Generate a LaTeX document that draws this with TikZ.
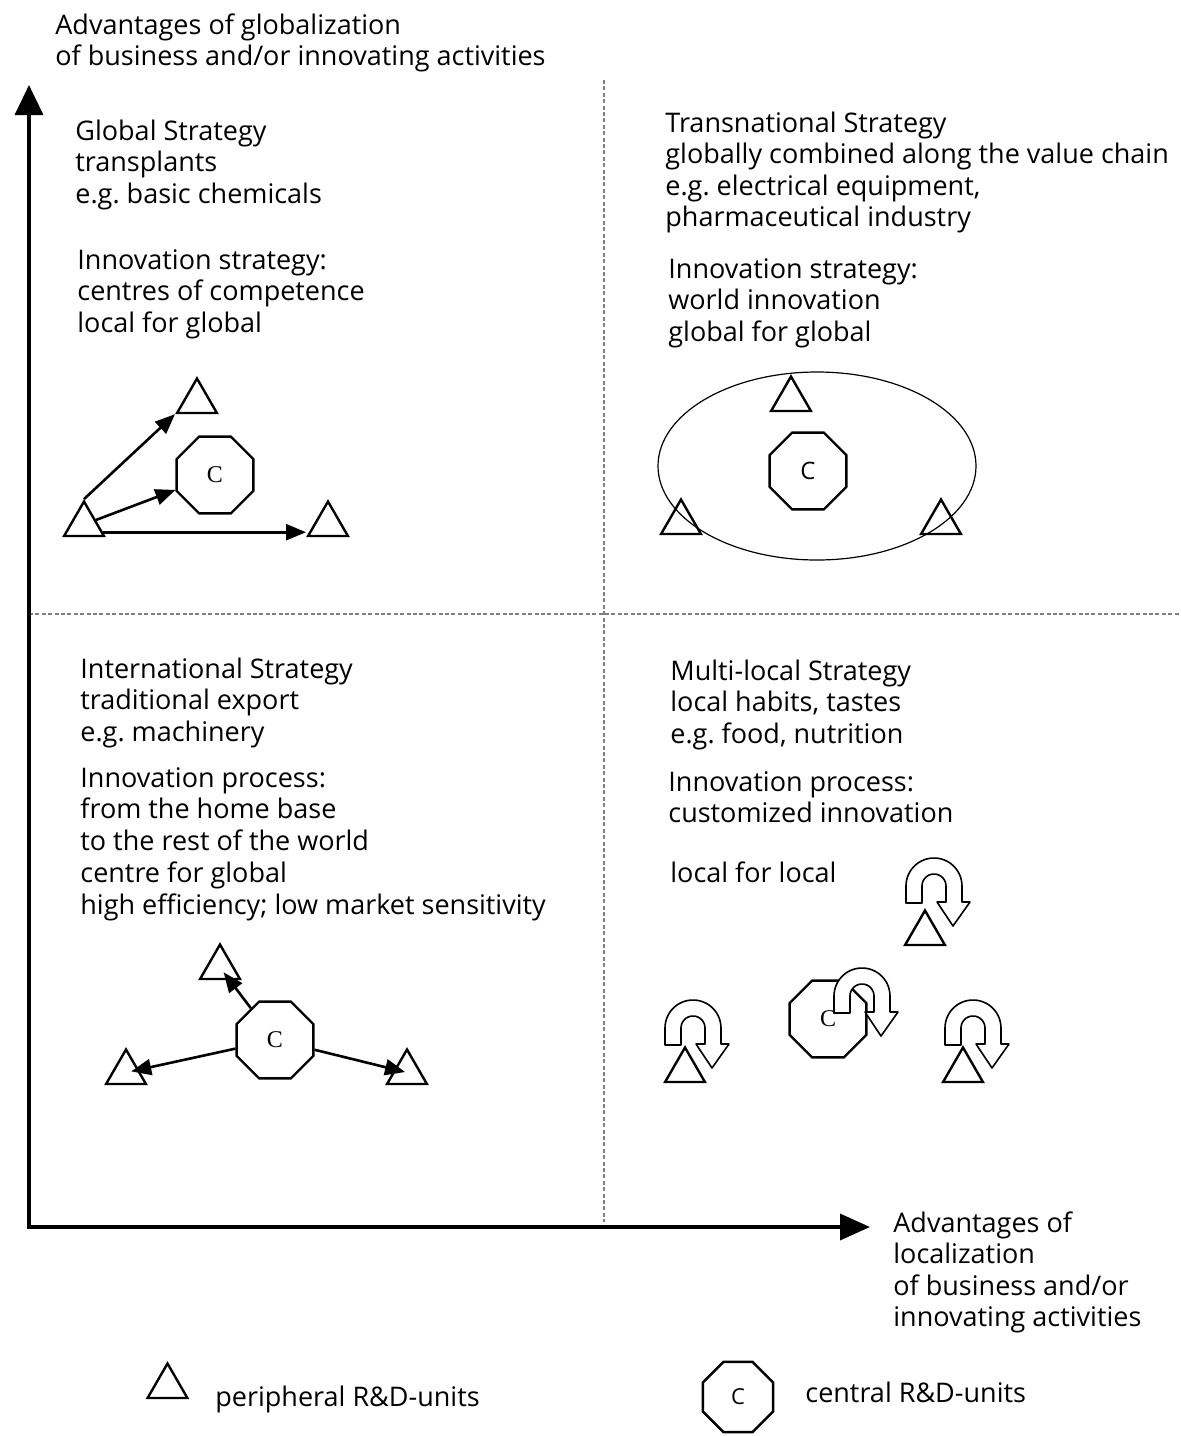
\documentclass[tikz,border=0pt]{standalone}
\usepackage{fontspec}
\setmainfont{Open Sans}
\newfontfamily\cfont{Liberation Serif}
\usetikzlibrary{shapes.geometric,arrows.meta,calc}
\frenchspacing
\begin{document}
\begin{tikzpicture}[x=0.5pt,y=-0.5pt,
 txt/.style={anchor=base west, inner sep=0pt, font=\fontsize{13.5}{16}\selectfont},
 tri/.style={regular polygon, regular polygon sides=3, draw, line width=1.2pt, minimum size=23pt, inner sep=0pt},
 oct/.style={regular polygon, regular polygon sides=8, draw, line width=1.2pt, minimum size=41.5pt, inner sep=0pt, font=\cfont\fontsize{12}{12}\selectfont},
 arr/.style={line width=1.3pt, -{Triangle[length=10pt,width=8pt]}},
 axis/.style={line width=1.8pt, {Triangle[length=15pt,width=14pt]}-{Triangle[length=15pt,width=13pt]}},
 divider/.style={gray, line width=0.6pt, dash pattern=on 2pt off 1.2pt},
 cycarrow/.style={draw, fill=white, line width=0.8pt, line join=round},
 cyc/.pic={\path[cycarrow] (-28,17) -- plot[domain=180:360,samples=30,variable=\t] ({28*cos(\t)},{28*sin(\t)}) -- (28,16) -- (36,16) -- (19,40) -- (3,16) -- (12,16) -- plot[domain=360:180,samples=20,variable=\t] ({12*cos(\t)},{12*sin(\t)}) -- (-12,17) -- cycle;}
]
\useasboundingbox (0,0) rectangle (1180,1436);

% dividers
\coordinate (vdTop) at (604,80);
\coordinate (vdBot) at (604,1222);
\coordinate (hdL) at (29,614);
\coordinate (hdR) at (1180,614);
\draw[divider] (vdTop) -- (vdBot);
\draw[divider] (hdL) -- (hdR);

% axes
\coordinate (O) at (29,1227);
\coordinate (Ytop) at (29,85);
\coordinate (Xend) at (870,1227);
\draw[axis] (Ytop) -- (O) -- (Xend);

% axis labels
\foreach \s [count=\i from 0] in {Advantages of globalization,of business and/or innovating activities}
  \node[txt] (ylab\i) at (55,34+31.5*\i) {\s};
\foreach \s [count=\i from 0] in {Advantages of,localization,of business and/or,innovating activities}
  \node[txt] (xlab\i) at (893,1232+31.5*\i) {\s};

% top-left quadrant text
\foreach \s [count=\i from 0] in {Global Strategy,transplants,e.g. basic chemicals}
  \node[txt] (tla\i) at (75,140+31.5*\i) {\s};
\foreach \s [count=\i from 0] in {Innovation strategy:,centres of competence,local for global}
  \node[txt] (tlb\i) at (77,269+31.5*\i) {\s};

% top-right quadrant text
\foreach \s [count=\i from 0] in {Transnational Strategy,globally combined along the value chain,{e.g. electrical equipment,},pharmaceutical industry}
  \node[txt] (tra\i) at (665,132+31.5*\i) {\s};
\foreach \s [count=\i from 0] in {Innovation strategy:,world innovation,global for global}
  \node[txt] (trb\i) at (668,278+31.5*\i) {\s};

% bottom-left quadrant text
\foreach \s [count=\i from 0] in {International Strategy,traditional export,e.g. machinery}
  \node[txt] (bla\i) at (80,678+31.8*\i) {\s};
\foreach \s [count=\i from 0] in {Innovation process:,from the home base,to the rest of the world,centre for global,high efficiency; low market sensitivity}
  \node[txt] (blb\i) at (80,787+31.8*\i) {\s};

% bottom-right quadrant text
\foreach \s [count=\i from 0] in {Multi-local Strategy,{local habits, tastes},{e.g. food, nutrition}}
  \node[txt] (bra\i) at (670,680+31.8*\i) {\s};
\foreach \s [count=\i from 0] in {Innovation process:,customized innovation}
  \node[txt] (brb\i) at (668,791+31.5*\i) {\s};
\node[txt] (brc) at (670,882) {local for local};

% ---- top-left diagram
\node[tri] (tlA) at (84,524.5) {};
\node[tri] (tlB) at (197,401.5) {};
\node[tri] (tlD) at (328,524.5) {};
\node[oct] (tlC) at (215,475) {C};
\draw[arr] (tlA.corner 1) -- (tlB.corner 2);
\draw[arr] (tlA) -- (tlC);
\draw[arr] ([shift={(-1.5pt,2.5pt)}]tlA.corner 3) -- ([yshift=2.5pt]tlD.corner 2);

% ---- top-right diagram
\node[ellipse, draw, line width=0.6pt, minimum width=159pt, minimum height=94pt, inner sep=0pt] (trE) at (817,466) {};
\node[tri] (trT) at (791,399.5) {};
\node[tri] (trL) at (681,522.5) {};
\node[tri] (trR) at (941,522.5) {};
\node[oct, font=\fontsize{12}{12}\selectfont] (trC) at (808,471) {C};

% ---- bottom-left diagram
\node[oct] (blC) at (275,1040) {C};
\node[tri] (blT) at (220,967.5) {};
\node[tri] (blL) at (126,1072.5) {};
\node[tri] (blR) at (407,1072.5) {};
\draw[arr, shorten >=3pt] (blC) -- (blT.center);
\draw[arr, shorten >=-4pt] (blC) -- (blL);
\draw[arr, shorten >=1pt] (blC) -- (blR.center);

% ---- bottom-right diagram
\node[tri] (brT) at (925,933.5) {};
\node[tri] (brL) at (685,1070.5) {};
\node[tri] (brR) at (963,1070.5) {};
\node[oct] (brC) at (828,1019) {C};
\pic at (934,886) {cyc};
\pic at (693,1028) {cyc};
\pic at (862,996) {cyc};
\pic at (973,1028) {cyc};

% ---- legend
\node[tri] (legT) at (167.5,1386.5) {};
\node[txt] (legTl) at (215,1406) {peripheral R\&D-units};
\node[oct, minimum size=38pt, font=\fontsize{11}{11}\selectfont] (legC) at (738,1397) {C};
\node[txt] (legCl) at (805,1402) {central R\&D-units};
\end{tikzpicture}
\end{document}
